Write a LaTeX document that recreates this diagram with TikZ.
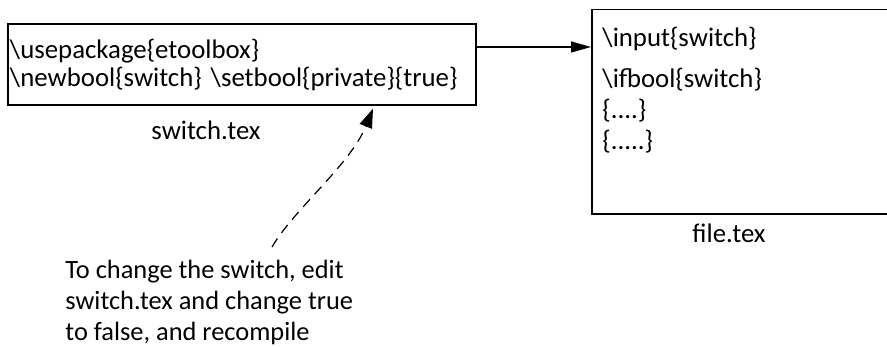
\documentclass[tikz,border=0pt]{standalone}
\usepackage{fontspec}
\setmainfont{Carlito}
\usetikzlibrary{arrows.meta,positioning}

\begin{document}
\begin{tikzpicture}[x=0.5pt, y=-0.5pt,
  >={Triangle[length=10pt,width=5.5pt]},
  every node/.style={font=\fontsize{13.4}{14}\selectfont},
  filebox/.style={draw, line width=0.75pt, inner sep=0pt},
  caption/.style={inner sep=0pt}]

\useasboundingbox (0,0) rectangle (887,347);
\clip (0,0) rectangle (887,347);

% switch.tex
\node (switch) [filebox, minimum width=234pt, minimum height=40.5pt, text width=232pt, align=left] at (242,64.5)
  {\textbackslash usepackage\{etoolbox\}\\ \textbackslash newbool\{switch\} \textbackslash setbool\{private\}\{true\}};
\node (switchname) [caption] at (206,130) {switch.tex};

% file.tex
\node (file) [filebox, minimum width=153pt, minimum height=102pt, anchor=north west] at (591,9) {};
\node (filetext) [anchor=north west, align=left, inner sep=0pt, font=\fontsize{13.4}{15.5}\selectfont] at (602,27)
  {\textbackslash input\{switch\}\\[5pt] \textbackslash ifbool\{switch\}\\ \{....\}\\ \{.....\}};
\node (filename) [caption] at (729,233) {file.tex};

% input
\draw[->, line width=0.75pt] ([yshift=8.75pt]switch.east) -- ([yshift=8.75pt]switch.east -| file.west);

% note
\node (note) [anchor=north west, align=left, inner sep=0pt, font=\fontsize{13.2}{15.5}\selectfont] at (65,260)
  {To change the switch, edit\\ switch.tex and change true\\ to false, and recompile};
\coordinate (tail) at (272,247);
\draw[->, >={Triangle[length=9.5pt,width=6.5pt]}, line width=0.6pt, dash pattern=on 5pt off 3.5pt]
  (tail) .. controls (295,208) and (350,165) .. ([xshift=65.5pt, yshift=-1.5pt]switch.south);

\end{tikzpicture}
\end{document}
